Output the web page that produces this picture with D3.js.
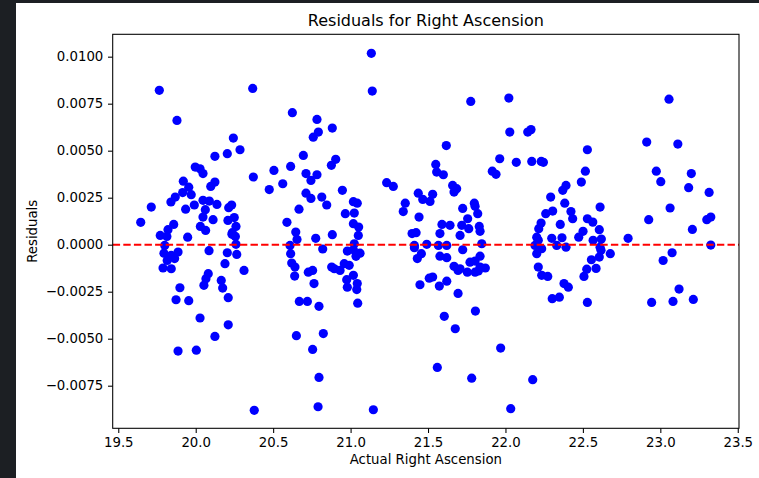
<!DOCTYPE html>
<html>
<head>
<meta charset="utf-8">
<script src="https://cdn.jsdelivr.net/npm/d3@7"></script>
<style>
  body { margin: 0; background: #1c1f23; }
  svg text { font-family: "DejaVu Sans", sans-serif; fill: #000; }
</style>
</head>
<body>
<div id="svgDiv" style="width:759px;height:478px;"></div>
<script>
// residual points, [actual right ascension, residual], grouped by cluster
var cluster1 = [[19.645,0.00119],[19.713,0.00200],[19.765,0.00821],[19.879,0.00661],[19.920,0.00338],[19.955,0.00306],[19.916,0.00277],[19.971,0.00266],[19.868,0.00253],[19.840,0.00227],[19.935,0.00189],[19.991,0.00211],[19.997,0.00413],[20.028,0.00404],[20.047,0.00378],[20.047,0.00236],[20.088,0.00232],[20.062,0.00186],[20.047,0.00147],[20.097,0.00310],[20.124,0.00333],[20.124,0.00470],[20.137,0.00214],[20.112,0.00133],[19.858,0.00108],[19.821,0.00080],[19.771,0.00049],[19.948,0.00040],[20.030,0.00097],[20.064,0.00076],[20.204,0.00484],[20.243,0.00567],[20.286,0.00505],[20.368,0.00831],[20.372,0.00360],[20.213,0.00197],[20.232,0.00211],[20.208,0.00129],[20.249,0.00144],[20.260,0.00097],[20.236,0.00064],[20.256,0.00044],[19.814,0.00044],[19.800,-0.00004],[19.795,-0.00045],[19.816,-0.00084],[19.789,-0.00124],[19.842,-0.00128],[19.842,-0.00057],[19.864,-0.00074],[19.886,-0.00039],[19.898,-0.00229],[19.873,-0.00293],[19.955,-0.00298],[19.886,-0.00566],[20.004,-0.00561],[20.028,-0.00390],[20.053,-0.00216],[20.066,-0.00181],[20.081,-0.00154],[20.086,-0.00032],[20.124,-0.00488],[20.165,-0.00190],[20.174,-0.00231],[20.189,-0.00101],[20.204,-0.00043],[20.210,-0.00282],[20.210,-0.00426],[20.265,-0.00052],[20.260,0.00002],[20.234,0.00055],[20.312,-0.00137],[20.378,-0.00881]];
var cluster2 = [[20.475,0.00293],[20.505,0.00395],[20.562,0.00324],[20.613,0.00416],[20.624,0.00702],[20.589,0.00119],[20.646,0.00067],[20.667,0.00189],[20.695,0.00475],[20.712,0.00378],[20.744,0.00342],[20.783,0.00372],[20.712,0.00274],[20.744,0.00246],[20.814,0.00253],[20.846,0.00211],[20.783,0.00666],[20.792,0.00599],[20.759,0.00572],[20.882,0.00620],[20.904,0.00454],[20.876,0.00422],[20.947,0.00289],[21.018,0.00229],[21.043,0.00221],[20.966,0.00165],[21.024,0.00168],[21.018,0.00112],[21.052,0.00094],[20.775,0.00034],[20.882,0.00053],[21.050,0.00049],[21.134,0.01018],[21.140,0.00817],[20.613,-0.00048],[20.620,-0.00098],[20.641,-0.00119],[20.639,-0.00167],[20.669,-0.00302],[20.721,-0.00302],[20.650,-0.00484],[20.727,-0.00146],[20.755,-0.00137],[20.764,-0.00207],[20.796,-0.00328],[20.755,-0.00557],[20.824,-0.00473],[20.796,-0.00706],[20.790,-0.00862],[20.820,-0.00023],[20.878,-0.00119],[20.895,-0.00128],[20.932,-0.00137],[20.959,-0.00101],[20.991,-0.00110],[20.979,-0.00034],[21.018,-0.00163],[20.975,-0.00186],[20.979,-0.00226],[21.043,-0.00207],[21.040,-0.00239],[21.046,-0.00311],[21.035,-0.00062],[21.061,-0.00045],[21.018,-0.00027],[21.147,-0.00878],[20.654,0.00027],[20.609,-0.00004],[21.024,0.00005]];
var cluster3 = [[21.233,0.00330],[21.276,0.00310],[21.353,0.00221],[21.340,0.00176],[21.437,0.00274],[21.466,0.00241],[21.513,0.00230],[21.530,0.00268],[21.442,0.00147],[21.550,0.00427],[21.556,0.00386],[21.599,0.00372],[21.618,0.00527],[21.659,0.00315],[21.685,0.00298],[21.668,0.00280],[21.724,0.00193],[21.799,0.00221],[21.804,0.00204],[21.821,0.00165],[21.756,0.00138],[21.590,0.00108],[21.642,0.00103],[21.718,0.00103],[21.763,0.00085],[21.831,0.00097],[21.836,0.00071],[21.707,0.00049],[21.577,0.00059],[21.397,0.00059],[21.423,0.00064],[21.776,0.00762],[21.412,-0.00016],[21.431,-0.00074],[21.457,-0.00048],[21.448,-0.00213],[21.508,-0.00178],[21.530,-0.00172],[21.560,-0.00653],[21.577,-0.00061],[21.621,-0.00069],[21.573,-0.00220],[21.621,-0.00194],[21.605,-0.00381],[21.668,-0.00115],[21.694,-0.00137],[21.694,-0.00259],[21.676,-0.00447],[21.707,-0.00128],[21.724,-0.00027],[21.754,-0.00146],[21.771,-0.00093],[21.804,-0.00087],[21.804,-0.00146],[21.825,-0.00140],[21.836,-0.00061],[21.870,-0.00124],[21.806,-0.00353],[21.782,-0.00710],[21.412,-0.00004],[21.492,0.00002],[21.567,-0.00004],[21.621,-0.00004],[21.847,0.00005],[21.836,-0.00119]];
var cluster4 = [[22.022,0.00780],[22.028,0.00599],[22.144,0.00599],[22.165,0.00612],[21.963,0.00457],[22.070,0.00438],[22.170,0.00443],[22.231,0.00443],[22.245,0.00438],[21.915,0.00391],[21.939,0.00374],[21.969,-0.00550],[22.034,-0.00872],[22.176,-0.00718],[22.529,0.00505],[22.516,0.00391],[22.490,0.00333],[22.391,0.00315],[22.370,0.00289],[22.292,0.00253],[22.383,0.00221],[22.260,0.00165],[22.305,0.00179],[22.423,0.00176],[22.434,0.00138],[22.611,0.00200],[22.529,0.00138],[22.564,0.00120],[22.606,0.00080],[22.354,0.00108],[22.230,0.00115],[22.215,0.00085],[22.202,0.00040],[22.299,0.00034],[22.365,0.00037],[22.473,0.00040],[22.501,0.00071],[22.619,0.00030],[22.792,0.00034],[22.202,-0.00048],[22.212,-0.00119],[22.234,-0.00163],[22.273,-0.00169],[22.302,-0.00287],[22.348,-0.00279],[22.378,-0.00207],[22.406,-0.00226],[22.331,-0.00004],[22.391,-0.00013],[22.507,-0.00169],[22.525,-0.00130],[22.529,-0.00307],[22.555,-0.00080],[22.585,-0.00126],[22.606,-0.00066],[22.617,-0.00030],[22.677,-0.00048],[22.212,0.00023],[22.191,-0.00004],[22.234,-0.00021],[22.566,0.00023],[22.611,-0.00013]];
var cluster5 = [[23.056,0.00774],[22.912,0.00546],[23.113,0.00535],[22.974,0.00391],[23.003,0.00335],[23.200,0.00378],[23.183,0.00303],[23.315,0.00278],[23.063,0.00195],[22.925,0.00133],[23.207,0.00081],[23.300,0.00133],[23.326,0.00147],[23.018,-0.00084],[23.076,-0.00043],[22.944,-0.00307],[23.082,-0.00302],[23.121,-0.00236],[23.213,-0.00291],[23.326,-0.00002]];

var xTicks = [19.5, 20.0, 20.5, 21.0, 21.5, 22.0, 22.5, 23.0, 23.5];
var yTicks = [-0.0075, -0.005, -0.0025, 0, 0.0025, 0.005, 0.0075, 0.01];
var xDomain = [19.464, 23.508];
var yDomain = [-0.009766, 0.01119];
var titleText = "Residuals for Right Ascension";
var xLabel = "Actual Right Ascension";
var yLabel = "Residuals";

var svgWidth = 759, svgHeight = 478;
var plotLeft = 112.7, plotRight = 739, plotTop = 34.3, plotBottom = 428.3;

var svg = d3.select("#svgDiv")
    .append("svg")
    .attr("width", svgWidth)
    .attr("height", svgHeight);

// white figure area over the dark page
svg.append("rect")
    .attr("x", 16).attr("y", 3)
    .attr("width", svgWidth - 16).attr("height", svgHeight - 3)
    .attr("fill", "#ffffff");

var xScale = d3.scaleLinear().domain(xDomain).range([plotLeft, plotRight]);
var yScale = d3.scaleLinear().domain(yDomain).range([plotBottom, plotTop]);

var allPoints = cluster1.concat(cluster2, cluster3, cluster4, cluster5);

svg.append("g")
    .selectAll("circle")
    .data(allPoints)
    .enter().append("circle")
    .attr("cx", d => xScale(d[0]))
    .attr("cy", d => yScale(d[1]))
    .attr("r", 4.6)
    .attr("fill", "#0000ff");

// zero line
svg.append("line")
    .attr("x1", plotLeft).attr("x2", plotRight)
    .attr("y1", yScale(0)).attr("y2", yScale(0))
    .attr("stroke", "#ff0000")
    .attr("stroke-width", 2)
    .attr("stroke-dasharray", "7.4,3.2");

// axes
var fmtY = d => d3.format(".4f")(d).replace("-", "\u2212");
var xAxis = d3.axisBottom(xScale).tickValues(xTicks).tickFormat(d3.format(".1f")).tickSizeOuter(0).tickSize(4.7).tickPadding(4.7);
var yAxis = d3.axisLeft(yScale).tickValues(yTicks).tickFormat(fmtY).tickSizeOuter(0).tickSize(4.7).tickPadding(4.7);

var gx = svg.append("g").attr("transform", "translate(0," + plotBottom + ")").call(xAxis);
var gy = svg.append("g").attr("transform", "translate(" + plotLeft + ",0)").call(yAxis);
[gx, gy].forEach(function(g){
    g.select(".domain").remove();
    g.selectAll("line").attr("stroke", "#000").attr("stroke-width", 1.07);
    g.selectAll("text").attr("font-size", "13.3px").attr("font-family", "DejaVu Sans").attr("fill", "#000");
});

// frame
svg.append("rect")
    .attr("x", plotLeft).attr("y", plotTop)
    .attr("width", plotRight - plotLeft).attr("height", plotBottom - plotTop)
    .attr("fill", "none").attr("stroke", "#000").attr("stroke-width", 1.07);

svg.append("text")
    .attr("x", (plotLeft + plotRight) / 2).attr("y", 26)
    .attr("text-anchor", "middle")
    .attr("font-size", "16px")
    .text(titleText);

svg.append("text")
    .attr("x", (plotLeft + plotRight) / 2).attr("y", 464)
    .attr("text-anchor", "middle")
    .attr("font-size", "13.3px")
    .text(xLabel);

svg.append("text")
    .attr("transform", "translate(37," + (plotTop + plotBottom) / 2 + ") rotate(-90)")
    .attr("text-anchor", "middle")
    .attr("font-size", "13.3px")
    .text(yLabel);
</script>
</body>
</html>
